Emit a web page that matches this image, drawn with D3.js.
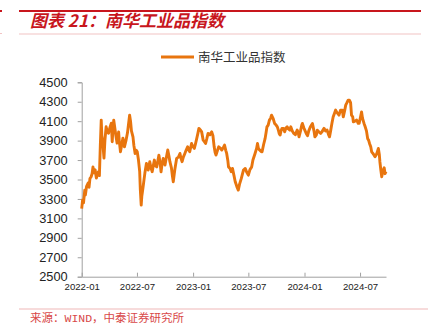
<!DOCTYPE html>
<html><head><meta charset="utf-8">
<script src="https://cdn.jsdelivr.net/npm/d3@7"></script>
<style>
html,body{margin:0;padding:0;background:#fff;}
svg{display:block;}
</style></head>
<body><svg id="c" width="428" height="329"></svg>
<script>
const title = "图表 21：南华工业品指数";
const seriesName = "南华工业品指数";
const source = "来源：WIND，中泰证券研究所";
const yTicks = [2500,2700,2900,3100,3300,3500,3700,3900,4100,4300,4500];
const xTicks = ["2022-01-01","2022-07-01","2023-01-01","2023-07-01","2024-01-01","2024-07-01"];
const xDomain = ["2022-01-01","2024-09-24"];
const dates = [
"2022-01-01","2022-01-04","2022-01-07","2022-01-11","2022-01-13","2022-01-17","2022-01-22","2022-01-25","2022-01-28","2022-02-01",
"2022-02-04","2022-02-07","2022-02-10","2022-02-14","2022-02-18","2022-02-22","2022-02-25","2022-02-28","2022-03-03","2022-03-06",
"2022-03-08","2022-03-11","2022-03-15","2022-03-18","2022-03-22","2022-03-26","2022-03-30","2022-04-03","2022-04-08","2022-04-11",
"2022-04-13","2022-04-16","2022-04-20","2022-04-23","2022-04-27","2022-05-02","2022-05-04","2022-05-08","2022-05-13","2022-05-16",
"2022-05-19","2022-05-21","2022-05-26","2022-05-31","2022-06-03","2022-06-07","2022-06-10","2022-06-13","2022-06-18","2022-06-21",
"2022-06-25","2022-06-29","2022-07-02","2022-07-06","2022-07-10","2022-07-12","2022-07-15","2022-07-17","2022-07-21","2022-07-24",
"2022-07-27","2022-08-01","2022-08-07","2022-08-12","2022-08-16","2022-08-20","2022-08-24","2022-08-27","2022-08-31","2022-09-04",
"2022-09-08","2022-09-11","2022-09-15","2022-09-18","2022-09-21","2022-09-25","2022-10-01","2022-10-05","2022-10-10","2022-10-14",
"2022-10-17","2022-10-22","2022-10-25","2022-10-28","2022-11-02","2022-11-08","2022-11-14","2022-11-19","2022-11-22","2022-11-26",
"2022-11-30","2022-12-05","2022-12-09","2022-12-14","2022-12-18","2022-12-21","2022-12-27","2022-12-31","2023-01-05","2023-01-09",
"2023-01-13","2023-01-17","2023-01-20","2023-01-25","2023-01-29","2023-02-03","2023-02-07","2023-02-11","2023-02-15","2023-02-19",
"2023-02-25","2023-03-03","2023-03-07","2023-03-11","2023-03-14","2023-03-17","2023-03-22","2023-03-26","2023-04-01","2023-04-05",
"2023-04-10","2023-04-14","2023-04-18","2023-04-21","2023-04-25","2023-04-27","2023-05-02","2023-05-06","2023-05-10","2023-05-15",
"2023-05-19","2023-05-23","2023-05-25","2023-05-29","2023-06-02","2023-06-08","2023-06-12","2023-06-15","2023-06-21","2023-06-25",
"2023-07-01","2023-07-06","2023-07-12","2023-07-16","2023-07-23","2023-07-28","2023-07-31","2023-08-03","2023-08-07","2023-08-11",
"2023-08-15","2023-08-20","2023-08-25","2023-08-28","2023-08-31","2023-09-04","2023-09-08","2023-09-12","2023-09-15","2023-09-20",
"2023-09-25","2023-09-30","2023-10-04","2023-10-08","2023-10-10","2023-10-13","2023-10-16","2023-10-19","2023-10-24","2023-10-28",
"2023-11-01","2023-11-05","2023-11-09","2023-11-14","2023-11-17","2023-11-22","2023-11-27","2023-12-02","2023-12-08","2023-12-11",
"2023-12-14","2023-12-19","2023-12-23","2023-12-25","2023-12-30","2024-01-02","2024-01-07","2024-01-11","2024-01-15","2024-01-20",
"2024-01-27","2024-02-01","2024-02-04","2024-02-09","2024-02-12","2024-02-17","2024-02-23","2024-02-27","2024-03-05","2024-03-10",
"2024-03-15","2024-03-20","2024-03-23","2024-03-27","2024-03-31","2024-04-04","2024-04-08","2024-04-12","2024-04-16","2024-04-23",
"2024-04-28","2024-05-04","2024-05-07","2024-05-11","2024-05-15","2024-05-19","2024-05-23","2024-05-27","2024-05-31","2024-06-03",
"2024-06-07","2024-06-09","2024-06-14","2024-06-20","2024-06-25","2024-06-28","2024-07-03","2024-07-06","2024-07-09","2024-07-14",
"2024-07-17","2024-07-22","2024-07-26","2024-07-29","2024-08-01","2024-08-05","2024-08-08","2024-08-12","2024-08-16","2024-08-19",
"2024-08-24","2024-08-27","2024-08-30","2024-09-02","2024-09-04","2024-09-07","2024-09-10","2024-09-12","2024-09-15","2024-09-18",
"2024-09-21","2024-09-24"];
const values = [
3200,3290,3260,3390,3340,3430,3463,3420,3510,3528,
3560,3630,3570,3600,3515,3560,3580,3540,3850,4111,
3950,3880,3720,3900,4042,3990,3977,4030,4080,3888,
4000,4111,4020,3950,3874,3990,3900,3785,3870,3926,
3880,3836,3900,3980,4060,4162,4100,4000,3939,3850,
3768,3800,3785,3700,3580,3400,3237,3330,3420,3494,
3566,3666,3597,3683,3620,3580,3650,3700,3640,3630,
3700,3751,3670,3580,3650,3717,3648,3720,3803,3740,
3683,3620,3540,3477,3600,3717,3730,3768,3720,3683,
3730,3768,3800,3836,3800,3785,3871,3840,3820,3870,
3923,3980,4026,4010,3990,3905,3890,3871,3920,3974,
3960,3990,3950,3836,3780,3751,3800,3836,3820,3803,
3830,3854,3800,3768,3690,3630,3614,3580,3614,3540,
3477,3440,3420,3391,3450,3511,3560,3597,3614,3580,
3545,3600,3630,3700,3768,3820,3871,3820,3803,3790,
3785,3860,3923,3980,4042,4060,4111,4130,4162,4130,
4077,4060,4042,4000,3974,3957,4000,4026,4026,3990,
4030,4042,4020,4008,4042,4000,3974,3960,4008,3990,
3939,4000,4060,4077,4030,4008,3970,3950,4000,4040,
4077,4000,3939,3960,4008,3990,3974,3990,4026,4000,
4008,3960,3939,4008,4080,4145,4180,4214,4190,4162,
4214,4214,4145,4200,4265,4290,4317,4317,4290,4162,
4145,4093,4100,4111,4077,4077,4150,4196,4130,4077,
4050,4000,3920,3905,3871,3836,3785,3768,3750,3734,
3760,3790,3820,3760,3683,3600,3528,3560,3597,3620,
3560,3580];

const parse = d3.timeParse("%Y-%m-%d");
const data = dates.map((d,i)=>({date:parse(d), value:values[i]}));

const svg = d3.select("#c");
const red = "#c8161d";
const orange = "#e8750e";

// header decoration
svg.append("rect").attr("x",19).attr("y",10).attr("width",402).attr("height",2).attr("fill",red);
svg.append("rect").attr("x",19).attr("y",33.5).attr("width",402).attr("height",1).attr("fill","#f2c4c4");
svg.append("rect").attr("x",0).attr("y",10).attr("width",2).attr("height",2).attr("fill",red);
svg.append("rect").attr("x",0).attr("y",33).attr("width",2).attr("height",1).attr("fill","#f2c4c4");
svg.append("text").attr("x",30).attr("y",27)
  .attr("font-family","'Noto Sans CJK SC', sans-serif")
  .attr("font-size",17).attr("font-weight","bold").attr("font-style","italic")
  .attr("fill",red).text(title);

// footer
svg.append("rect").attr("x",19).attr("y",308.5).attr("width",409).attr("height",1).attr("fill","#f0b8b8");
svg.append("text").attr("x",30).attr("y",322)
  .attr("font-family","'Liberation Mono','Noto Sans CJK SC', monospace")
  .attr("font-size",11.5).attr("fill","#d84848").text(source);

// scales
const x = d3.scaleTime().domain(xDomain.map(parse)).range([81.7, 386]);
const y = d3.scaleLinear().domain([2500,4500]).range([276.7, 82.3]);

const axisColor = "#a0a0a0";

const gy = svg.append("g").attr("transform","translate(81.7,0)")
  .call(d3.axisLeft(y).tickValues(yTicks).tickSize(4).tickPadding(10).tickFormat(d3.format("d")));
gy.selectAll("path,line").attr("stroke",axisColor);
gy.selectAll("text").attr("font-family","'Liberation Sans', Arial, sans-serif").attr("font-size",12.8).attr("fill","#222");

const gx = svg.append("g").attr("transform","translate(0,276.7)")
  .call(d3.axisBottom(x).tickValues(xTicks.map(parse)).tickSizeInner(-4).tickSizeOuter(0).tickPadding(6).tickFormat(d3.timeFormat("%Y-%m")));
gx.selectAll("path,line").attr("stroke",axisColor);
gx.selectAll("text").attr("font-family","'Liberation Sans', Arial, sans-serif").attr("font-size",9.6).attr("fill","#222");

// line
const line = d3.line().x(d=>x(d.date)).y(d=>y(d.value)).curve(d3.curveLinear);
svg.append("path").datum(data).attr("d",line)
  .attr("fill","none").attr("stroke",orange).attr("stroke-width",2.9).attr("stroke-linejoin","round");

// legend
svg.append("line").attr("x1",161).attr("x2",194).attr("y1",57).attr("y2",57)
  .attr("stroke",orange).attr("stroke-width",3);
svg.append("text").attr("x",198).attr("y",61.5)
  .attr("font-family","'Noto Sans CJK SC', sans-serif").attr("font-size",12.5).attr("fill","#333")
  .text(seriesName);
</script>
</body></html>
